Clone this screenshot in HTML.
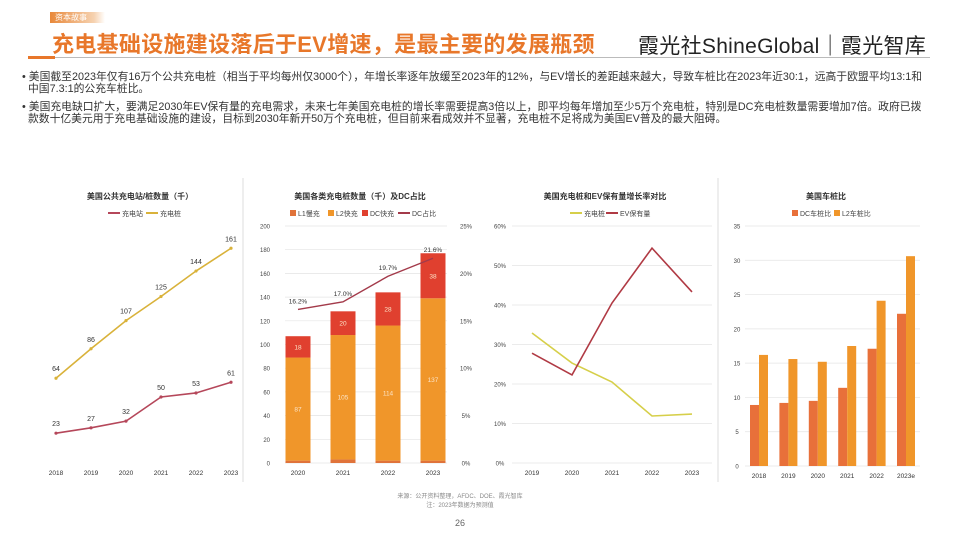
<!DOCTYPE html>
<html><head><meta charset="utf-8">
<style>
body{margin:0;width:960px;height:540px;background:#fff;overflow:hidden;font-family:"Liberation Sans","Noto Sans CJK SC",sans-serif;position:relative}
.abs{position:absolute}
.tag{left:50px;top:12px;width:50px;height:11px;background:linear-gradient(90deg,#e8883a,#f6d2b0 80%,#fff);color:#fff;font-size:8px;line-height:11px;padding-left:5px}
.title{left:52px;top:27px;font-size:22px;font-weight:bold;color:#e8772a;letter-spacing:0.3px}
.logo{left:638px;top:30px;font-size:21px;color:#222;letter-spacing:0.3px}
.rule{left:28px;top:57px;width:902px;height:1px;background:#bbb}
.rule2{left:28px;top:56px;width:27px;height:3px;background:#e8772a}
.bul{left:22px;font-size:10.8px;color:#333;line-height:12px;width:930px;white-space:nowrap}
.foot{font-size:6px;color:#888;text-align:center}
</style></head><body>
<div class="abs tag">资本故事</div>
<div class="abs title">充电基础设施建设落后于EV增速，是最主要的发展瓶颈</div>
<div class="abs logo">霞光社ShineGlobal｜霞光智库</div>
<div class="abs rule"></div>
<div class="abs rule2"></div>
<div class="abs bul" style="top:71px">• 美国截至2023年仅有16万个公共充电桩（相当于平均每州仅3000个），年增长率逐年放缓至2023年的12%，与EV增长的差距越来越大，导致车桩比在2023年近30:1，远高于欧盟平均13:1和<br>&nbsp;&nbsp;中国7.3:1的公充车桩比。</div>
<div class="abs bul" style="top:101px">• 美国充电缺口扩大，要满足2030年EV保有量的充电需求，未来七年美国充电桩的增长率需要提高3倍以上，即平均每年增加至少5万个充电桩，特别是DC充电桩数量需要增加7倍。政府已拨<br>&nbsp;&nbsp;款数十亿美元用于充电基础设施的建设，目标到2030年新开50万个充电桩，但目前来看成效并不显著，充电桩不足将成为美国EV普及的最大阻碍。</div>
<div class="abs foot" style="left:380px;top:491px;width:160px">来源：公开资料整理，AFDC、DOE、霞光智库<br>注：2023年数据为预测值</div>
<div class="abs foot" style="left:440px;top:518px;width:40px;font-size:9px;color:#666">26</div>

<svg class="abs" style="left:0;top:0" width="960" height="540" id="svg"
 font-family="Liberation Sans, Noto Sans CJK SC, sans-serif">
<line x1="243" y1="178" x2="243" y2="482" stroke="#ddd"/>
<line x1="718" y1="178" x2="718" y2="482" stroke="#ddd"/>
</svg>
<script>
// Chart 1
const c1Years=["2018","2019","2020","2021","2022","2023"];
const c1Stations=[23,27,32,50,53,61];
const c1Piles=[64,86,107,125,144,161];
// Chart 2
const c2Years=["2020","2021","2022","2023"];
const c2L1=[2,3,2,2];
const c2L2=[87,105,114,137];
const c2DC=[18,20,28,38];
const c2Share=[16.2,17.0,19.7,21.6];
const c2LeftTicks=[0,20,40,60,80,100,120,140,160,180,200];
const c2RightTicks=[0,5,10,15,20,25];
// Chart 3
const c3Years=["2019","2020","2021","2022","2023"];
const c3Pile=[32.9,25.3,20.5,11.9,12.4];
const c3EV=[27.8,22.3,40.5,54.4,43.3];
const c3Ticks=[0,10,20,30,40,50,60];
// Chart 4
const c4Years=["2018","2019","2020","2021","2022","2023e"];
const c4DC=[8.9,9.2,9.5,11.4,17.1,22.2];
const c4L2=[16.2,15.6,15.2,17.5,24.1,30.6];
const c4Ticks=[0,5,10,15,20,25,30,35];

const svg=document.getElementById('svg');
const NS='http://www.w3.org/2000/svg';
function mk(tag,at,txt){const e=document.createElementNS(NS,tag);for(const k in at)e.setAttribute(k,at[k]);if(txt!==undefined)e.textContent=txt;svg.appendChild(e);return e;}
function txt(x,y,s,size,fill,anchor,name,weight){const e=mk('text',{x:x,y:y,'font-size':size,fill:fill,'text-anchor':anchor||'middle','font-weight':weight||'normal'},s);


return e;}
function legendItem(x,y,color,label,kind,name){let e;
if(kind==='line'){e=mk('line',{x1:x,y1:y,x2:x+12,y2:y,stroke:color,'stroke-width':2});}
else{e=mk('rect',{x:x,y:y-3,width:6,height:6,fill:color});}


txt(x+(kind==='line'?14:8),y+3,label,7,'#444','start',name);}

// ---------- Chart 1
{const y0=464,k=1.34; const xs=i=>56+i*35; const ys=v=>y0-v*k;
txt(140,199,'美国公共充电站/桩数量（千）',8,'#333','middle','chart1-title','bold');
legendItem(108,213,'#b5475a','充电站','line','chart1-legend-stations');
legendItem(146,213,'#d9b23a','充电桩','line','chart1-legend-piles');
const draw=(arr,color,nm)=>{const p=mk('polyline',{points:arr.map((v,i)=>xs(i)+','+ys(v)).join(' '),fill:'none',stroke:color,'stroke-width':1.6});


arr.forEach((v,i)=>{const c=mk('circle',{cx:xs(i),cy:ys(v),r:1.6,fill:color});


txt(xs(i),ys(v)-7,String(v),7,'#333','middle',nm+'-label');});};
draw(c1Piles,'#d9b23a','piles');draw(c1Stations,'#b5475a','stations');
c1Years.forEach((y,i)=>txt(xs(i),475,y,6.5,'#333','middle','chart1-x-tick'));}

// ---------- Chart 2
{const y0=463,H=237,x0=285,x1=447; const ys=v=>y0-v/200*H; const yr=p=>y0-p/25*H; const xc=i=>298+i*45;
txt(360,199,'美国各类充电桩数量（千）及DC占比',8,'#333','middle','chart2-title','bold');
legendItem(290,213,'#e0733a','L1慢充','rect','chart2-legend-l1');
legendItem(328,213,'#f0962a','L2快充','rect','chart2-legend-l2');
legendItem(362,213,'#e0402f','DC快充','rect','chart2-legend-dc');
legendItem(398,213,'#a33a4a','DC占比','line','chart2-legend-share');
c2LeftTicks.forEach(t=>{const g=mk('line',{x1:x0,y1:ys(t),x2:x1,y2:ys(t),stroke:'#e4e4e4','stroke-width':0.7});


txt(270,ys(t)+2.5,String(t),6,'#444','end','chart2-left-tick');});
c2RightTicks.forEach(t=>txt(466,yr(t)+2.5,t+'%',6,'#444','middle','chart2-right-tick'));
c2Years.forEach((yy,i)=>{let base=0;[[c2L1,'#e0733a','l1'],[c2L2,'#f0962a','l2'],[c2DC,'#e0402f','dc']].forEach(([a,col,nm])=>{const v=a[i];
const r=mk('rect',{x:xc(i)-12.5,y:ys(base+v),width:25,height:ys(base)-ys(base+v),fill:col});


if(nm!=='l1')txt(xc(i),(ys(base)+ys(base+v))/2+2.5,String(v),6.5,'#fbe4c8','middle','chart2-bar-label');
base+=v;});
txt(xc(i),475,yy,6.5,'#333','middle','chart2-x-tick');});
const p=mk('polyline',{points:c2Share.map((v,i)=>xc(i)+','+yr(v)).join(' '),fill:'none',stroke:'#a33a4a','stroke-width':1.4});


c2Share.forEach((v,i)=>txt(xc(i),yr(v)-6,v.toFixed(1)+'%',6.5,'#333','middle','chart2-share-label'));}

// ---------- Chart 3
{const y0=463,H=237; const ys=v=>y0-v/60*H; const xc=i=>532+i*40;
txt(605,199,'美国充电桩和EV保有量增长率对比',8,'#333','middle','chart3-title','bold');
legendItem(570,213,'#d6cf4a','充电桩','line','chart3-legend-piles');
legendItem(606,213,'#b03a44','EV保有量','line','chart3-legend-ev');
c3Ticks.forEach(t=>{const g=mk('line',{x1:512,y1:ys(t),x2:712,y2:ys(t),stroke:'#e4e4e4','stroke-width':0.7});


txt(500,ys(t)+2.5,t+'%',6,'#444','middle','chart3-y-tick');});
[[c3Pile,'#d6cf4a','piles'],[c3EV,'#b03a44','ev']].forEach(([a,col,nm])=>{const p=mk('polyline',{points:a.map((v,i)=>xc(i)+','+ys(v)).join(' '),fill:'none',stroke:col,'stroke-width':1.6});

});
c3Years.forEach((y,i)=>txt(xc(i),475,y,6.5,'#333','middle','chart3-x-tick'));}

// ---------- Chart 4
{const y0=466,H=240; const ys=v=>y0-v/35*H; const xc=i=>759+i*29.4;
txt(826,199,'美国车桩比',8,'#333','middle','chart4-title','bold');
legendItem(792,213,'#e8703a','DC车桩比','rect','chart4-legend-dc');
legendItem(834,213,'#f0962a','L2车桩比','rect','chart4-legend-l2');
c4Ticks.forEach(t=>{const g=mk('line',{x1:745,y1:ys(t),x2:920,y2:ys(t),stroke:'#e4e4e4','stroke-width':0.7});


txt(737,ys(t)+2.5,String(t),6,'#444','middle','chart4-y-tick');});
c4Years.forEach((yy,i)=>{const a=mk('rect',{x:xc(i)-9,y:ys(c4DC[i]),width:9,height:y0-ys(c4DC[i]),fill:'#e8703a'});


const b=mk('rect',{x:xc(i),y:ys(c4L2[i]),width:9,height:y0-ys(c4L2[i]),fill:'#f0962a'});


txt(xc(i),478,yy,6.5,'#333','middle','chart4-x-tick');});}
</script>
</body></html>
